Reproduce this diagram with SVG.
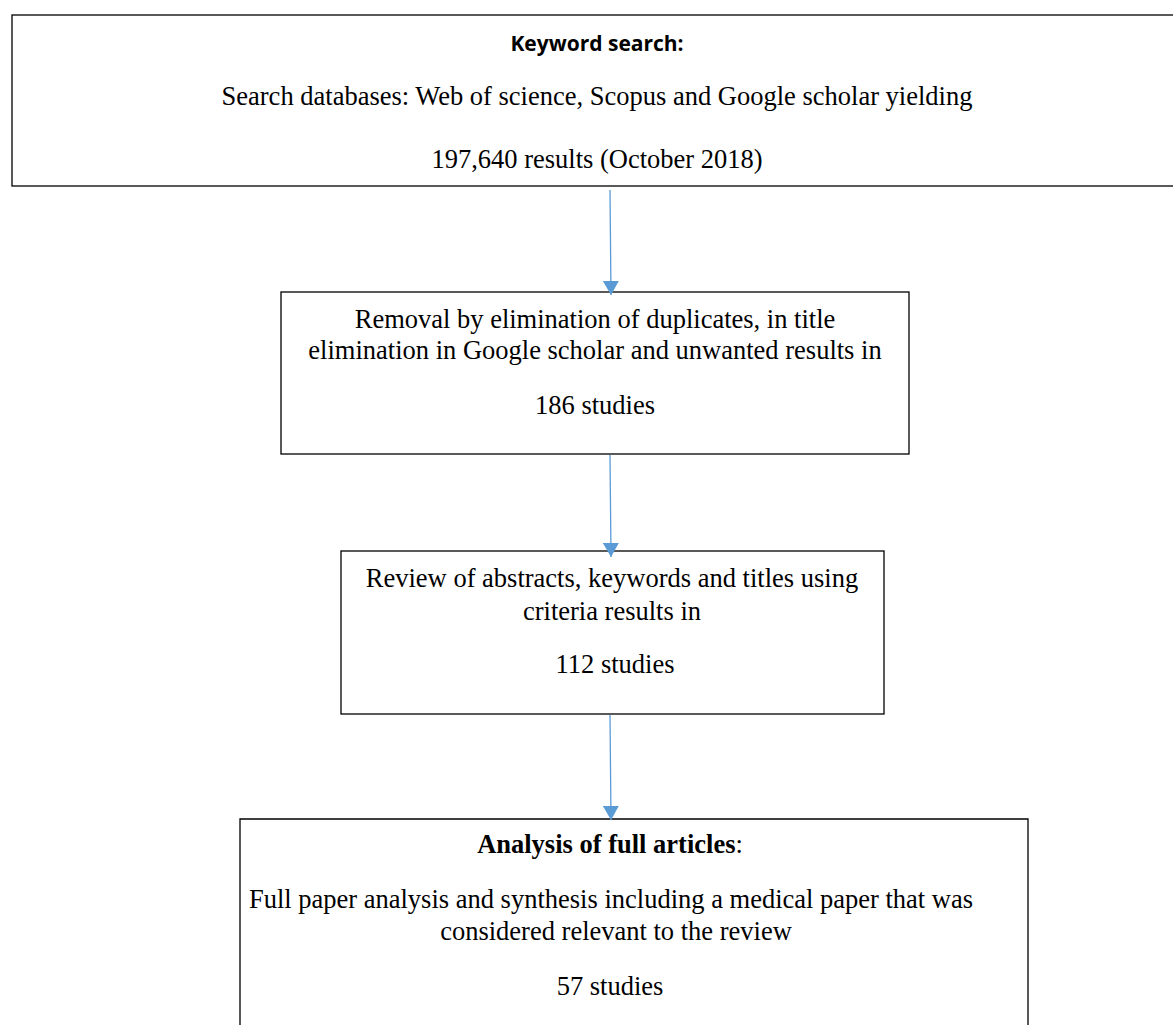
<svg xmlns="http://www.w3.org/2000/svg" width="1173" height="1025" viewBox="0 0 1173 1025">
<style>
.box{fill:#fff;stroke:#000;stroke-width:1.3}
.t{font-family:"Liberation Serif","Times New Roman",serif;font-size:26.5px;fill:#000;text-anchor:middle}
.b{font-weight:bold}
.k{font-family:"Open Sans","Liberation Sans",sans-serif;font-size:21px;font-weight:bold;fill:#000;text-anchor:middle}
.c{stroke:#5B9BD5;stroke-width:1.3;fill:none}
</style>
<defs>
<marker id="ah" viewBox="0 0 14 16" refX="14" refY="8" markerWidth="14" markerHeight="16" markerUnits="userSpaceOnUse" orient="auto">
<path d="M0,0 L14,8 L0,16 Z" fill="#5B9BD5"/>
</marker>
</defs>
<g id="n1">
<rect class="box" x="12" y="15" width="1175" height="171"/>
<text class="k" x="597" y="51">Keyword search:</text>
<text class="t" x="597" y="105">Search databases: Web of science, Scopus and Google scholar yielding</text>
<text class="t" x="597" y="168">197,640 results (October 2018)</text>
</g>
<g id="n2">
<rect class="box" x="281" y="292" width="628" height="162"/>
<text class="t" x="595" y="328">Removal by elimination of duplicates, in title</text>
<text class="t" x="595" y="359">elimination in Google scholar and unwanted results in</text>
<text class="t" x="595" y="414">186 studies</text>
</g>
<g id="n3">
<rect class="box" x="341" y="551" width="543" height="163"/>
<text class="t" x="612" y="587">Review of abstracts, keywords and titles using</text>
<text class="t" x="612" y="620">criteria results in</text>
<text class="t" x="615" y="673">112 studies</text>
</g>
<g id="n4">
<path class="box" d="M240,1030 V819 H1028 V1030"/>
<text class="t" x="610" y="853"><tspan class="b">Analysis of full articles</tspan>:</text>
<text class="t" x="611" y="908">Full paper analysis and synthesis including a medical paper that was</text>
<text class="t" x="616" y="940">considered relevant to the review</text>
<text class="t" x="610" y="995">57 studies</text>
</g>
<g id="connectors">
<line class="c" x1="610" y1="190" x2="611" y2="295" marker-end="url(#ah)"/>
<line class="c" x1="610" y1="455" x2="611" y2="557" marker-end="url(#ah)"/>
<line class="c" x1="610" y1="715" x2="611" y2="820" marker-end="url(#ah)"/>
</g>
</svg>
